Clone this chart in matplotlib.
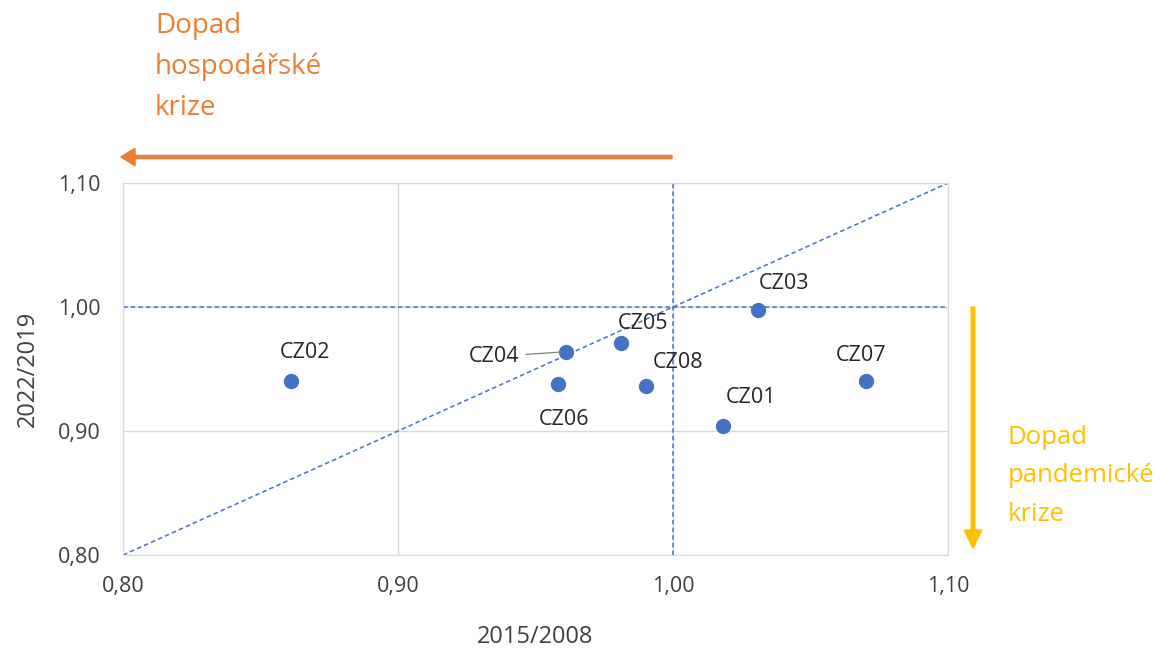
import matplotlib.pyplot as plt
from matplotlib.patches import FancyArrow

# data
regions = ["CZ01", "CZ02", "CZ03", "CZ04", "CZ05", "CZ06", "CZ07", "CZ08"]
ratio_2015_2008 = [1.018, 0.861, 1.031, 0.961, 0.981, 0.958, 1.070, 0.990]
ratio_2022_2019 = [0.904, 0.940, 0.998, 0.964, 0.971, 0.938, 0.940, 0.936]
ticks = [0.80, 0.90, 1.00, 1.10]

# label offsets in pixels
offsets = {
    "CZ01": (28, 29), "CZ02": (14, 29), "CZ03": (26, 26), "CZ04": (-72, -5),
    "CZ05": (22, 19), "CZ06": (6, -36), "CZ07": (-4, 26), "CZ08": (33, 24),
}

blue = "#4472C4"
orange = "#ED7D31"
yellow = "#FFC000"
plt.rcParams['font.family'] = ['Open Sans', 'DejaVu Sans']

fig = plt.figure(figsize=(11.74, 6.48), dpi=100)
ax = fig.add_axes([0.1048, 0.1435, 0.7027, 0.574])

ax.set_xlim(0.80, 1.10)
ax.set_ylim(0.80, 1.10)
ax.set_xticks(ticks)
ax.set_yticks(ticks)
labels = [f"{t:.2f}".replace(".", ",") for t in ticks]
ax.set_xticklabels(labels, fontsize=15.5, color="#404040")
ax.set_yticklabels(labels, fontsize=15.5, color="#404040")
ax.tick_params(axis="x", length=0, pad=15)
ax.tick_params(axis="y", length=0, pad=16)
ax.grid(True, color="#d9d9d9", linewidth=1)
ax.set_axisbelow(True)
for s in ax.spines.values():
    s.set_color("#d9d9d9")

# reference lines
ax.plot([0.80, 1.10], [0.80, 1.10], linestyle="--", color=blue, linewidth=1.1, dashes=(3, 2))
ax.axvline(1.0, linestyle="--", color=blue, linewidth=1.1, dashes=(3, 2))
ax.axhline(1.0, linestyle="--", color=blue, linewidth=1.1, dashes=(3, 2))

ax.scatter(ratio_2015_2008, ratio_2022_2019, s=100, color=blue, zorder=3)

for name, x, y in zip(regions, ratio_2015_2008, ratio_2022_2019):
    dx, dy = offsets[name]
    if name == "CZ04":
        ax.annotate(name, (x, y), xytext=(dx, dy), textcoords="offset pixels",
                    ha="center", va="center", fontsize=15.5, color="#262626",
                    arrowprops=dict(arrowstyle="-", color="#7f7f7f", lw=0.9,
                                    shrinkA=3, shrinkB=4))
    else:
        ax.annotate(name, (x, y), xytext=(dx, dy), textcoords="offset pixels",
                    ha="center", va="center", fontsize=15.5, color="#262626")

ax.set_xlabel("2015/2008", fontsize=17, color="#404040", labelpad=20)
ax.set_ylabel("2022/2019", fontsize=17, color="#404040", labelpad=13)

# arrows and notes outside the plot
fig.patches.append(FancyArrow(
    672 / 1174, 1 - 157 / 648, -(672 - 135) / 1174, 0, width=0.0048,
    head_width=0.027, head_length=0.012, length_includes_head=False,
    color=orange, transform=fig.transFigure))
fig.text(155 / 1174, 1 - 67 / 648, "Dopad\nhospodářské\nkrize", fontsize=20,
         color=orange, ha="left", va="center", linespacing=1.62)

fig.patches.append(FancyArrow(
    973 / 1174, 1 - 307 / 648, 0, -(530 - 307) / 648, width=0.003,
    head_width=0.015, head_length=0.028, length_includes_head=False,
    color=yellow, transform=fig.transFigure))
fig.text(1008 / 1174, 1 - 476 / 648, "Dopad\npandemické\nkrize", fontsize=18.5,
         color=yellow, ha="left", va="center", linespacing=1.72)

fig.savefig("out.png", dpi=100)
